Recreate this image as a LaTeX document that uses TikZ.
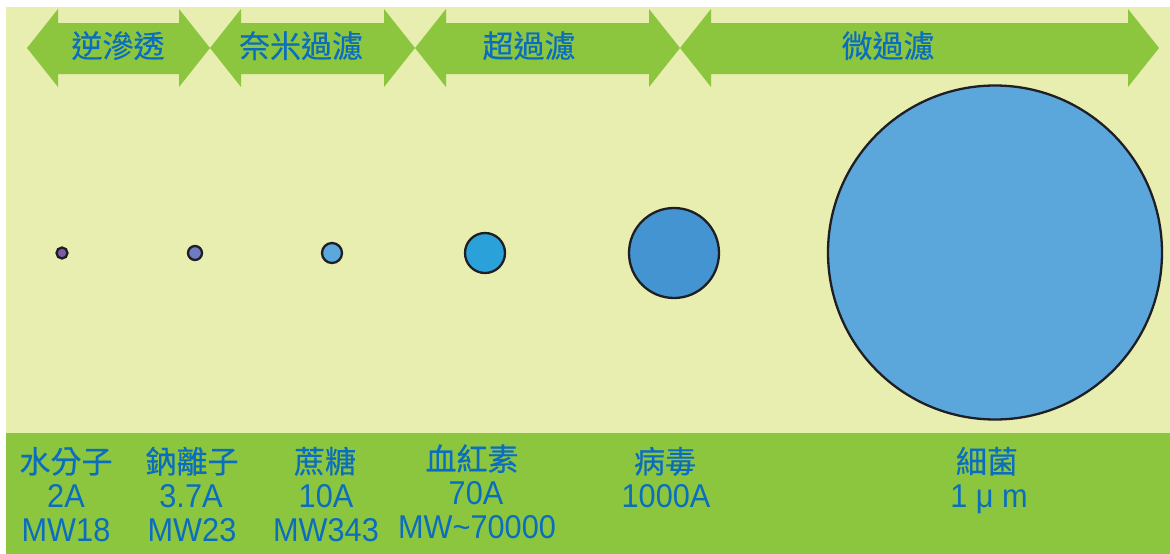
\documentclass[tikz,border=0pt]{standalone}
\usepackage{fontspec}
\setmainfont{Liberation Sans}
\newfontfamily\cjk[FakeBold=0.5]{Noto Sans CJK TC}
\newfontfamily\latn[FakeStretch=0.93]{Liberation Sans}
\definecolor{pale}{HTML}{E8EEB0}
\definecolor{leaf}{HTML}{8CC63F}
\definecolor{txtblue}{HTML}{0B6DBE}
\definecolor{edgec}{HTML}{1E1E24}
\definecolor{cA}{HTML}{7D5BA6}
\definecolor{cB}{HTML}{6E7CC0}
\definecolor{cC}{HTML}{5BA9DC}
\definecolor{cD}{HTML}{2BA1D9}
\definecolor{cE}{HTML}{4394D0}
\definecolor{cF}{HTML}{5BA7DB}
\newcommand\dblarrow[2]{%
  \fill[leaf] (#1,48) -- (#1+31,9) -- (#1+31,23) -- (#2-31,23) -- (#2-31,9)
    -- (#2,48) -- (#2-31,87) -- (#2-31,74) -- (#1+31,74) -- (#1+31,87) -- cycle;}
\begin{document}
\begin{tikzpicture}[x=1pt,y=-1pt,
  particle/.style={circle,draw=edgec,line width=2.3pt,inner sep=0pt},
  cjklbl/.style={text=txtblue,inner sep=0pt,anchor=base,font=\cjk\fontsize{31}{31}\selectfont},
  numlbl/.style={text=txtblue,inner sep=0pt,anchor=base,font=\latn\fontsize{33}{33}\selectfont}]
\useasboundingbox (0,0) rectangle (1170,554);
\fill[white] (0,0) rectangle (1170,554);
\fill[pale] (6,7) rectangle (1170,433);
\fill[leaf] (6,433) rectangle (1170,554);
% range arrows
\dblarrow{27}{210}
\dblarrow{210}{415}
\dblarrow{415}{680}
\dblarrow{680}{1159}
\node[cjklbl] (ro) at (118,57.5) {逆滲透};
\node[cjklbl] (nf) at (301,57.5) {奈米過濾};
\node[cjklbl] (uf) at (529,57.5) {超過濾};
\node[cjklbl] (mf) at (888,57.5) {微過濾};
% particles
\node[particle,fill=cA,minimum size=11pt] (p1) at (62,253) {};
\node[particle,fill=cB,minimum size=14pt] (p2) at (195,253) {};
\node[particle,fill=cC,minimum size=20pt] (p3) at (332,253) {};
\node[particle,fill=cD,minimum size=40pt] (p4) at (485,253) {};
\node[particle,fill=cE,minimum size=90pt] (p5) at (674,253) {};
\node[particle,fill=cF,minimum size=334pt] (p6) at (995,252.5) {};
% labels
\node[cjklbl] (n1) at (66,473) {水分子};
\node[numlbl] (s1) at (66,507) {2A};
\node[numlbl] (m1) at (66,541) {MW18};
\node[cjklbl] (n2) at (192,473) {鈉離子};
\node[numlbl] (s2) at (191,507) {3.7A};
\node[numlbl] (m2) at (192,541) {MW23};
\node[cjklbl] (n3) at (325,473) {蔗糖};
\node[numlbl] (s3) at (326,507) {10A};
\node[numlbl] (m3) at (326,541) {MW343};
\node[cjklbl] (n4) at (472,470.5) {血紅素};
\node[numlbl] (s4) at (476,504.5) {70A};
\node[numlbl] (m4) at (477,538.5) {MW\textasciitilde70000};
\node[cjklbl] (n5) at (665,473) {病毒};
\node[numlbl] (s5) at (666,507) {1000A};
\node[cjklbl] (n6) at (987,473) {細菌};
\node[numlbl] (s6) at (989,507) {1 μ m};
\end{tikzpicture}
\end{document}
